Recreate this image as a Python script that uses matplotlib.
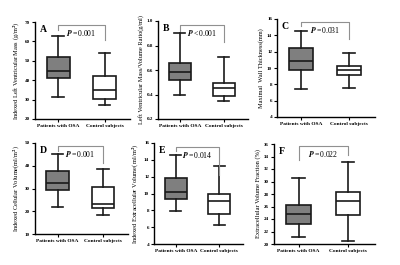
import matplotlib
matplotlib.use("Agg")
from matplotlib import pyplot as plt

plt.rcParams['font.family'] = ['Liberation Serif', 'DejaVu Serif']
plt.rcParams['font.weight'] = 'bold'
plt.rcParams['mathtext.fontset'] = 'stix'

groups = ["Patients with OSA", "Control subjects"]

# whisker low, q1, median, q3, whisker high
osa_a = [31.5, 41, 45, 52, 63]
ctl_a = [27, 30.5, 35, 42, 54]
osa_b = [0.40, 0.52, 0.58, 0.655, 0.90]
ctl_b = [0.35, 0.39, 0.45, 0.49, 0.71]
osa_c = [7.4, 9.7, 10.8, 12.4, 14.5]
ctl_c = [7.5, 9.15, 9.8, 10.2, 11.8]
osa_d = [22, 29.5, 32.5, 37.5, 45]
ctl_d = [18.5, 21.5, 23, 30.5, 38.5]
osa_e = [7.9, 9.3, 10.2, 11.8, 14.6]
ctl_e = [6.3, 7.6, 9.1, 10.0, 13.3]
osa_f = [21.2, 23.2, 24.8, 26.2, 30.5]
ctl_f = [20.5, 24.6, 26.9, 28.3, 33.1]

letters = ["A", "B", "C", "D", "E", "F"]
ylabels = ["Indexed Left Ventricular Mass (g/m$^2$)",
           "Left Ventricular Mass/Volume Ratio(g/ml)",
           "Maximal  Wall Thickness(mm)",
           "Indexed Cellular Volume(ml/m$^2$)",
           "Indexed Extracellular Volume( ml/m$^2$)",
           "Extracellular Volume Fraction (%)"]
pvals = ["=0.001", "<0.001", "=0.031", "=0.001", "=0.014", "=0.022"]
ylims = [(20, 70), (0.2, 1.0), (4, 16), (10, 50), (4, 16), (20, 36)]
ysteps = [10, 0.2, 2, 10, 2, 2]
# bracket: top, left leg end, right leg end
brackets = [(68.5, 66, 60.5), (0.97, 0.92, 0.83), (15.6, 15.1, 13.6),
            (48.5, 46.5, 41), (15.5, 15.0, 12.2), (35.7, 33.5, 34.2)]
tick_fmt = ["{:.0f}", "{:.1f}", "{:.0f}", "{:.0f}", "{:.0f}", "{:.0f}"]

data = [(osa_a, ctl_a), (osa_b, ctl_b), (osa_c, ctl_c),
        (osa_d, ctl_d), (osa_e, ctl_e), (osa_f, ctl_f)]

# axes boxes in pixels: left, top, right, bottom
rects = [(35, 22, 130, 119), (158, 21, 248, 119), (277, 19, 375, 117),
         (35, 143, 128, 234), (154, 143, 243, 244), (274, 144, 375, 244)]

W, H = 400, 265
fig = plt.figure(figsize=(4, 2.65), dpi=100)

for i in range(6):
    l, t, r, b = rects[i]
    ax = fig.add_axes([l / W, 1 - b / H, (r - l) / W, (b - t) / H])
    stats = []
    for s in data[i]:
        stats.append(dict(whislo=s[0], q1=s[1], med=s[2], q3=s[3], whishi=s[4], fliers=[]))
    bp = ax.bxp(stats, positions=[1, 2], widths=0.5, patch_artist=True,
                showfliers=False)
    fills = ["#7f7f7f", "white"]
    for j, box in enumerate(bp['boxes']):
        box.set_facecolor(fills[j])
        box.set_edgecolor("#1a1a1a")
        box.set_linewidth(1.2)
    for k in bp['whiskers'] + bp['caps'] + bp['medians']:
        k.set_color("#1a1a1a")
        k.set_linewidth(1.2)
    ax.set_xlim(0.5, 2.55)
    y0, y1 = ylims[i]
    ax.set_ylim(y0, y1)
    n = int(round((y1 - y0) / ysteps[i]))
    ticks = [y0 + ysteps[i] * k for k in range(n + 1)]
    ax.set_yticks(ticks)
    ax.set_yticklabels([tick_fmt[i].format(v) for v in ticks], fontsize=3.6)
    ax.set_xticks([1, 2])
    ax.set_xticklabels(groups, fontsize=3.9)
    ax.tick_params(length=2.5, width=0.8, pad=1)
    ax.spines['top'].set_visible(False)
    ax.spines['right'].set_visible(False)
    ax.spines['left'].set_linewidth(1.0)
    ax.spines['bottom'].set_linewidth(1.0)
    ax.set_ylabel(ylabels[i], fontsize=4.6, labelpad=2)
    ax.text(0.05, 0.97, letters[i], transform=ax.transAxes, fontsize=7,
            fontweight='bold', va='top', ha='left')
    top, lleg, rleg = brackets[i]
    ax.plot([1, 1, 2, 2], [lleg, top, top, rleg], color="#909090", lw=0.8)
    ax.text(1.5, top - (y1 - y0) * 0.03, "$P$ " + pvals[i], fontsize=5.6,
            ha='center', va='top', fontweight='normal')

plt.savefig("out.png", dpi=100)
